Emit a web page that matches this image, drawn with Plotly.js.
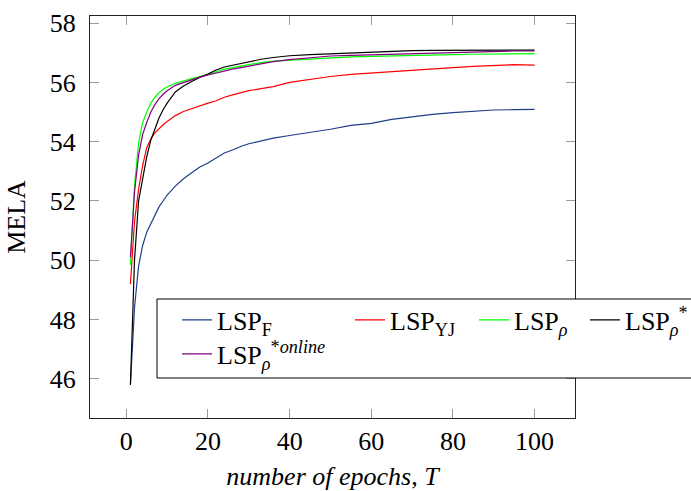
<!DOCTYPE html>
<html>
<head>
<meta charset="utf-8">
<script src="https://cdn.plot.ly/plotly-3.0.1.min.js"></script>
<style>html,body{margin:0;padding:0;background:#fff;overflow:hidden;}#chart{width:691px;height:491px;}</style>
</head>
<body>
<div id="chart"></div>
<script>
const epochs = [1,2,3,4,5,6,7,8,9,10,12,14,16,18,20,22,24,26,28,30,33,36,40,45,50,55,60,65,70,75,80,85,90,95,100];

const lspF = [45.8,48.4,49.8,50.5,50.95,51.25,51.55,51.8,52.0,52.2,52.5,52.75,52.95,53.15,53.28,53.45,53.62,53.72,53.84,53.93,54.03,54.12,54.21,54.31,54.42,54.55,54.62,54.75,54.84,54.92,54.98,55.03,55.07,55.08,55.09];
const lspYJ = [49.2,51.3,52.4,53.2,53.8,54.1,54.3,54.45,54.57,54.68,54.88,55.02,55.12,55.22,55.3,55.38,55.5,55.58,55.66,55.72,55.79,55.86,56.0,56.1,56.2,56.27,56.32,56.37,56.42,56.47,56.5,56.54,56.57,56.6,56.58];
const lspRho = [49.85,52.5,53.95,54.65,55.0,55.3,55.5,55.65,55.76,55.85,55.97,56.06,56.13,56.2,56.26,56.36,56.45,56.5,56.55,56.6,56.67,56.72,56.75,56.8,56.84,56.86,56.88,56.9,56.92,56.93,56.94,56.95,56.96,56.97,56.97];
const lspRhoStar = [45.8,50.0,52.0,52.8,53.5,54.05,54.45,54.8,55.08,55.3,55.68,55.88,56.03,56.17,56.28,56.42,56.52,56.58,56.65,56.7,56.78,56.84,56.9,56.94,56.97,57.0,57.02,57.05,57.07,57.08,57.08,57.08,57.09,57.09,57.09];
const lspRhoOnline = [50.1,52.3,53.55,54.25,54.65,55.0,55.25,55.45,55.6,55.72,55.9,56.0,56.1,56.18,56.25,56.32,56.4,56.45,56.5,56.55,56.63,56.7,56.77,56.84,56.89,56.91,56.93,56.95,56.97,56.99,57.01,57.04,57.04,57.06,57.06];

const names = ["LSP<sub>F</sub>","LSP<sub>YJ</sub>","LSP<sub><i>ρ</i></sub>","LSP<sub><i>ρ</i></sub><sup>*</sup>","LSP<sub><i>ρ</i></sub><sup>*<i>online</i></sup>"];
const xTicks = [0,20,40,60,80,100];
const yTicks = [46,48,50,52,54,56,58];

const W = 691, H = 491, L = 90, R = 116, T = 16, B = 73;
const pw = W - L - R, ph = H - T - B;
const px = v => (v - L) / pw;
const py = v => 1 - (v - T) / ph;

const series = [lspF, lspYJ, lspRho, lspRhoStar, lspRhoOnline];
const colors = ["#1f3f8a","#ff0000","#00ff00","#000000","#800080"];
const legendIds = ["legend","legend2","legend3","legend4","legend5"];

const traces = series.map((ys, i) => ({
  x: epochs, y: ys, type: "scatter", mode: "lines", name: names[i],
  line: {color: colors[i], width: 1.2}, legend: legendIds[i]
}));

const font = {family: '"Liberation Serif", "Times New Roman", serif', size: 26, color: "#000"};
const legBase = {bgcolor: "rgba(0,0,0,0)", borderwidth: 0, font: font, xanchor: "left", yanchor: "middle", orientation: "v"};
const textStarts = [217, 390, 514, 625, 217];
const rowY = [320, 320, 320, 320, 354];

const layout = {
  width: W, height: H,
  margin: {l: L, r: R, t: T, b: B, autoexpand: false},
  paper_bgcolor: "#fff", plot_bgcolor: "#fff",
  font: font,
  showlegend: true,
  xaxis: {
    range: [-8.9, 109.9], tickvals: xTicks, ticks: "inside", ticklen: 9, tickwidth: 1, tickcolor: "#9a9a9a",
    showline: true, linecolor: "#222", linewidth: 1, mirror: "allticks", showgrid: false, zeroline: false,
    ticklabelstandoff: 0, automargin: false, tickfont: font,
    title: {text: "<i>number of epochs</i>, <i>T</i>", font: font, standoff: 16}
  },
  yaxis: {
    range: [44.68, 58.24], tickvals: yTicks, ticks: "inside", ticklen: 9, tickwidth: 1, tickcolor: "#9a9a9a",
    showline: true, linecolor: "#222", linewidth: 1, mirror: "allticks", showgrid: false, zeroline: false,
    ticklabelstandoff: 8, automargin: false, tickfont: font,
    title: {text: "MELA", font: font, standoff: 16}
  },
  shapes: [{
    type: "rect", xref: "paper", yref: "paper", layer: "above",
    x0: px(157), x1: px(720), y0: py(378), y1: py(299),
    fillcolor: "#fff", line: {color: "#000", width: 1}
  }]
};
legendIds.forEach((id, i) => {
  layout[id] = Object.assign({}, legBase, {x: px(textStarts[i] - 40), y: py(rowY[i])});
});

Plotly.newPlot("chart", traces, layout, {displayModeBar: false, staticPlot: true});
</script>
</body>
</html>
